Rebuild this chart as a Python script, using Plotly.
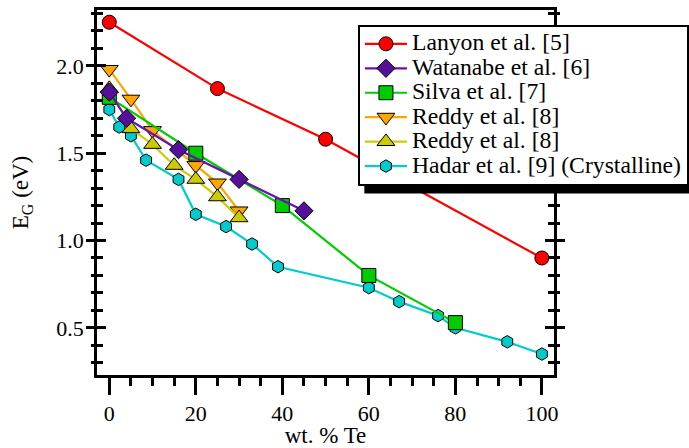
import plotly.graph_objects as go

# Optical band gap vs. tellurium content (wt. % Te)
lanyon_x = [0, 25, 50, 100]
lanyon_y = [2.25, 1.87, 1.58, 0.90]

watanabe_x = [0, 4, 16, 30, 45]
watanabe_y = [1.85, 1.70, 1.52, 1.35, 1.17]

silva_x = [0, 20, 40, 60, 80]
silva_y = [1.82, 1.50, 1.20, 0.80, 0.53]

reddy_a_x = [0, 5, 10, 20, 25, 30]
reddy_a_y = [1.98, 1.81, 1.63, 1.43, 1.33, 1.17]

reddy_b_x = [0, 5, 10, 15, 20, 25, 30]
reddy_b_y = [1.87, 1.64, 1.55, 1.43, 1.35, 1.25, 1.13]

hadar_x = [0, 2.3, 5, 8.5, 16, 20, 27, 33, 39, 60, 67, 76, 80, 92, 100]
hadar_y = [1.75, 1.65, 1.60, 1.46, 1.35, 1.15, 1.08, 0.98, 0.85, 0.73, 0.65, 0.57, 0.50, 0.42, 0.35]

names = [
    "Lanyon et al. [5]",
    "Watanabe et al. [6]",
    "Silva et al. [7]",
    "Reddy et al. [8]",
    "Reddy et al. [8]",
    "Hadar et al. [9] (Crystalline)",
]

FONT = "Liberation Serif"
X_RANGE = [-2.84, 102.8]
Y_RANGE = [0.23, 2.32]

fig = go.Figure()


def add_series(x, y, name, rank, color, symbol, size, yaxis="y", line_color=None):
    fig.add_trace(go.Scatter(
        x=x, y=y, mode="lines+markers",
        name='<span style="font-size:23.7px">' + name + "</span>",
        legendrank=rank,
        line=dict(color=line_color or color, width=2.2),
        marker=dict(color=color, symbol=symbol, size=size,
                    line=dict(color="black", width=1)),
        xaxis="x", yaxis=yaxis,
    ))


# draw order: lower layers first
add_series(hadar_x, hadar_y, names[5], 6, "#00CCCC", "hexagon", 12.5)
add_series(reddy_a_x, reddy_a_y, names[3], 4, "#FFA500", "triangle-down", 15.5)
add_series(reddy_b_x, reddy_b_y, names[4], 5, "#CCCC00", "triangle-up", 15.5)
add_series(silva_x, silva_y, names[2], 3, "#00CC00", "square", 14)
add_series(watanabe_x, watanabe_y, names[1], 2, "#55109A", "diamond", 14, line_color="#6A10B8")
# topmost series lives on the overlay axis that carries the outer tick marks
add_series(lanyon_x, lanyon_y, names[0], 1, "#FF0000", "circle", 14, yaxis="y2")

tickfont = dict(family=FONT, size=22, color="black")
titlefont = dict(family=FONT, size=23, color="black")

fig.update_layout(
    width=689, height=448,
    margin=dict(l=97, r=135, t=10, b=73, autoexpand=False),
    paper_bgcolor="white", plot_bgcolor="white",
    showlegend=True,
    legend=dict(
        x=0.571, y=0.960, xanchor="left", yanchor="top",
        bgcolor="white", bordercolor="black", borderwidth=2,
        font=dict(family=FONT, size=16.5, color="black"),
        itemwidth=42, tracegroupgap=0,
    ),
    xaxis=dict(
        range=X_RANGE, showgrid=False, zeroline=False, automargin=False,
        showline=True, linecolor="black", linewidth=2.5, mirror=True,
        ticks="outside", ticklen=17, tickwidth=2.5, tickcolor="black",
        tick0=0, dtick=20, ticklabelstandoff=0,
        minor=dict(ticks="outside", ticklen=8, tickwidth=2.5, tickcolor="black", dtick=5),
        tickfont=tickfont,
        title=dict(text="wt. % Te", font=titlefont, standoff=4),
    ),
    yaxis=dict(
        range=Y_RANGE, showgrid=False, zeroline=False, automargin=False,
        showline=True, linecolor="black", linewidth=2.5, mirror="ticks",
        ticks="inside", ticklen=9, tickwidth=2.5, tickcolor="black",
        tick0=0, dtick=0.5, tickformat=".1f", ticklabelstandoff=6,
        minor=dict(ticks="inside", ticklen=6, tickwidth=2.5, tickcolor="black", dtick=0.1),
        tickfont=tickfont,
        title=dict(text="E<sub>G</sub> (eV)", font=titlefont, standoff=22),
    ),
    yaxis2=dict(
        range=Y_RANGE, overlaying="y", anchor="x", side="left", automargin=False,
        showgrid=False, zeroline=False, showline=False, mirror="ticks",
        ticks="outside", ticklen=10, tickwidth=2.5, tickcolor="black",
        tick0=0, dtick=0.5, showticklabels=False,
        minor=dict(ticks="outside", ticklen=5, tickwidth=2.5, tickcolor="black", dtick=0.1),
    ),
)

# drop shadow behind the legend box
fig.add_shape(type="rect", xref="paper", yref="paper",
              x0=0.585, x1=1.30, y0=0.497, y1=0.93,
              fillcolor="black", line=dict(width=0), layer="above")

fig.write_html("out.html")
